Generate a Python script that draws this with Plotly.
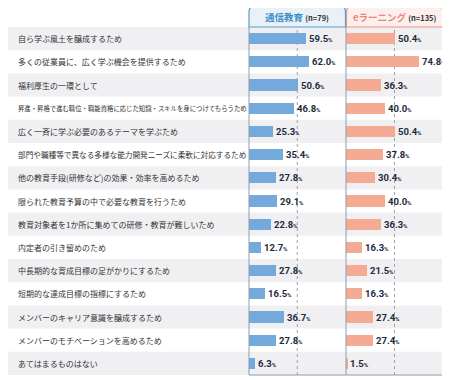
import plotly.graph_objects as go

categories = [
    "自ら学ぶ風土を醸成するため",
    "多くの従業員に、広く学ぶ機会を提供するため",
    "福利厚生の一環として",
    "昇進・昇格で進む職位・職能資格に応じた知識・スキルを身につけてもらうため",
    "広く一斉に学ぶ必要のあるテーマを学ぶため",
    "部門や職種等で異なる多様な能力開発ニーズに柔軟に対応するため",
    "他の教育手段(研修など)の効果・効率を高めるため",
    "限られた教育予算の中で必要な教育を行うため",
    "教育対象者を1か所に集めての研修・教育が難しいため",
    "内定者の引き留めのため",
    "中長期的な育成目標の足がかりにするため",
    "短期的な達成目標の指標にするため",
    "メンバーのキャリア意識を醸成するため",
    "メンバーのモチベーションを高めるため",
    "あてはまるものはない",
]
tsushin = [59.5, 62.0, 50.6, 46.8, 25.3, 35.4, 27.8, 29.1, 22.8, 12.7, 27.8, 16.5, 36.7, 27.8, 6.3]
elearning = [50.4, 74.8, 36.3, 40.0, 50.4, 37.8, 30.4, 40.0, 36.3, 16.3, 21.5, 16.3, 27.4, 27.4, 1.5]
series_names = ["通信教育", "eラーニング"]
series_n = ["(n=79)", "(n=135)"]

# page body has an 8px margin; figure is sized so it fits the 450x380 window
OFF = 8
W, H = 450 - OFF, 380 - OFF
TOP_S, BOT_S = 27, 375          # screen y of plot area top / bottom
T = TOP_S - OFF
B = H - (BOT_S - OFF)
PH = BOT_S - TOP_S

def px(sx):
    return (sx - OFF) / W

def py(sy):
    return (BOT_S - sy) / PH

blue = "#74aadb"
salmon = "#f4aa93"
blue_dark = "#3f8fc6"
salmon_dark = "#e8877a"
navy = "#1e2b3c"
cjk = "Noto Sans CJK JP"

dom1 = [px(249), px(345.5)]
dom2 = [px(346), px(443)]

fig = go.Figure()
fig.add_trace(go.Bar(x=tsushin, y=list(range(len(categories))), orientation="h",
                     marker=dict(color=blue, line=dict(width=0)), width=0.48,
                     xaxis="x", yaxis="y", hoverinfo="skip"))
fig.add_trace(go.Bar(x=elearning, y=list(range(len(categories))), orientation="h",
                     marker=dict(color=salmon, line=dict(width=0)), width=0.48,
                     xaxis="x2", yaxis="y", hoverinfo="skip"))

shapes = []
for i in range(len(categories)):
    if i % 2 == 0:
        shapes.append(dict(type="rect", xref="paper", yref="y", x0=px(8), x1=px(443),
                           y0=i - 0.5, y1=i + 0.5, fillcolor="#f0f0f3",
                           line=dict(width=0), layer="below"))
for ax in ["x", "x2"]:
    shapes.append(dict(type="line", xref=ax, yref="paper", x0=50, x1=50, y0=0, y1=1,
                       line=dict(color="#a0a0a8", width=1, dash="dot"), layer="below"))
border = "#8d9caf"
for xx in [249, 346, 443]:
    shapes.append(dict(type="line", xref="paper", yref="paper", x0=px(xx), x1=px(xx),
                       y0=0, y1=1, line=dict(color=border, width=1)))
shapes.append(dict(type="line", xref="paper", yref="paper", x0=px(249), x1=px(443),
                   y0=0, y1=0, line=dict(color=border, width=1)))

def header_path(x0, x1, y0, y1, r=6):
    rx, ry = r / W, r / PH
    X0, X1, Y0, Y1 = px(x0), px(x1), py(y0), py(y1)
    return (f"M {X0},{Y0} L {X0},{Y1 - ry} Q {X0},{Y1} {X0 + rx},{Y1} "
            f"L {X1 - rx},{Y1} Q {X1},{Y1} {X1},{Y1 - ry} L {X1},{Y0} Z")

shapes.append(dict(type="path", xref="paper", yref="paper", path=header_path(249, 345.5, 27, 6),
                   fillcolor="#e8f1f8", line=dict(color="#5b9ec9", width=1.2)))
shapes.append(dict(type="path", xref="paper", yref="paper", path=header_path(346.5, 443, 27, 6),
                   fillcolor="#fdefeb", line=dict(color="#e99486", width=1.2)))

annotations = []
for i, c in enumerate(categories):
    n = len(c)
    size = 8.0 if n <= 28 else min(8.0, 229.0 / n)
    annotations.append(dict(xref="paper", yref="y", x=px(16), y=i, text=c, showarrow=False,
                            xanchor="left", yanchor="middle",
                            font=dict(family=cjk, size=size, color="#333333")))
for vals, ax in [(tsushin, "x"), (elearning, "x2")]:
    for i, v in enumerate(vals):
        annotations.append(dict(xref=ax, yref="y", x=v, y=i, xshift=1,
                                text=f"<b>{v:.1f}</b><span style='font-size:6px'><b>%</b></span>",
                                showarrow=False, xanchor="left", yanchor="middle",
                                font=dict(family="Roboto", size=9.5, color=navy)))
for name, n, x0, x1, col in [(series_names[0], series_n[0], 249, 345.5, blue_dark),
                             (series_names[1], series_n[1], 346.5, 443, salmon_dark)]:
    annotations.append(dict(xref="paper", yref="paper", x=px((x0 + x1) / 2), y=py(16.5),
                            text=f"<b>{name}</b> <span style='font-size:7.5px;color:#333333'><b>{n}</b></span>",
                            showarrow=False, xanchor="center", yanchor="middle",
                            font=dict(family=cjk, size=9.5, color=col)))

fig.update_layout(
    width=W, height=H, margin=dict(l=0, r=0, t=T, b=B),
    paper_bgcolor="white", plot_bgcolor="rgba(0,0,0,0)",
    showlegend=False, bargap=0,
    xaxis=dict(domain=dom1, range=[0, 100], visible=False, fixedrange=True),
    xaxis2=dict(domain=dom2, range=[0, 100], visible=False, fixedrange=True),
    yaxis=dict(range=[len(categories) - 0.5, -0.5], visible=False, fixedrange=True),
    shapes=shapes, annotations=annotations,
)
fig.write_html("out.html")
